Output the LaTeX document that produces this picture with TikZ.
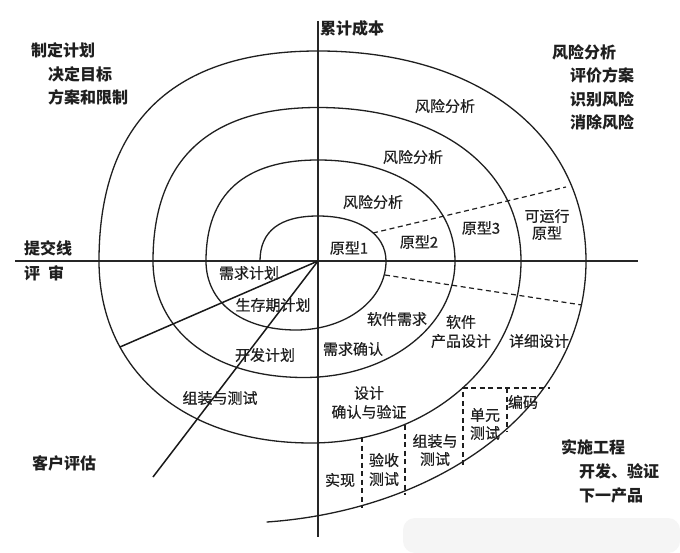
\documentclass[tikz,border=0pt]{standalone}
\usepackage{fontspec}
\newfontfamily\cjk{Noto Sans CJK SC}
\newfontfamily\cjkm{Noto Sans CJK SC}[FakeBold=0.5]
\begin{document}
\begin{tikzpicture}[x=1pt,y=-1pt,
  spiral/.style={line width=1.3pt, draw=black!88},
  axisline/.style={line width=1.8pt, draw=black!85},
  radial/.style={line width=1.5pt, draw=black!90},
  dashline/.style={line width=1.2pt, draw=black!88, dash pattern=on 5pt off 3.5pt},
  lab/.style={font=\cjkm\fontsize{15}{18}\selectfont, inner sep=0pt, align=center, text=black!88},
  blab/.style={font=\cjk\bfseries\fontsize{16}{19}\selectfont, inner sep=0pt, anchor=west, text=black!88}
]
\fill[white] (0,0) rectangle (680,553);
\useasboundingbox (0,0) rectangle (680,553);
\fill[black!4, rounded corners=12pt] (403,518) rectangle (680,553);

% axes
\coordinate (O) at (318,261);
\coordinate (axL) at (15,261);
\coordinate (axR) at (638,261);
\coordinate (axT) at (318,21);
\coordinate (axB) at (318,537);
\draw[axisline] (axL) -- (axR);
\draw[axisline] (axT) -- (axB);

% spiral
\draw[spiral, line cap=round, line join=round]
  (260,261) .. controls (260,231.3) and (279.7,216) .. (318,216)
            .. controls (358.8,216) and (386,234) .. (386,261)
            .. controls (386,299.6) and (346.4,330) .. (296,330)
            .. controls (242,330) and (206,302.4) .. (206,261)
            .. controls (206,194.3) and (244.1,160) .. (318,160)
            .. controls (400.2,160) and (455,200.4) .. (455,261)
            .. controls (455,326.2) and (388.6,377.5) .. (304,377.5)
            .. controls (213.4,377.5) and (153,330.9) .. (153,261)
            .. controls (153,159.7) and (209.1,107.5) .. (318,107.5)
            .. controls (439.8,107.5) and (521,168.9) .. (521,261)
            .. controls (521,362.9) and (428.6,443) .. (311,443)
            .. controls (183.8,443) and (99,370.2) .. (99,261)
            .. controls (99,122.4) and (173.5,51) .. (318,51)
            .. controls (478.8,51) and (586,135) .. (586,261)
            .. controls (586,407) and (440,510) .. (267,522);

% radial lines
\coordinate (r1) at (120,347);
\coordinate (r2) at (153,477);
\draw[radial] (O) -- (r1);
\draw[radial] (O) -- (r2);

% dashed lines
\coordinate (du1) at (373,233);
\coordinate (du2) at (566,187);
\coordinate (dl1) at (385,275);
\coordinate (dl2) at (582,305);
\draw[dashline] (du1) -- (du2);
\draw[dashline] (dl1) -- (dl2);

\coordinate (b1t) at (362,437); \coordinate (b1b) at (362,508);
\coordinate (b2t) at (405,425); \coordinate (b2b) at (405,495);
\coordinate (b3t) at (463,388); \coordinate (b3b) at (463,465);
\coordinate (b4t) at (507,388); \coordinate (b4b) at (507,432);
\coordinate (b5) at (550,388);
\draw[dashline] (b1t) -- (b1b);
\draw[dashline] (b2t) -- (b2b);
\draw[dashline] (b3b) -- (b3t) -- (b5);
\draw[dashline] (b4t) -- (b4b);

% corner labels
\node[blab] (c1) at (320,28) {累计成本};
\node[blab] (c2) at (31,50) {制定计划};
\node[blab] (c3) at (48,74) {决定目标};
\node[blab] (c4) at (48,97) {方案和限制};
\node[blab] (c5) at (552,52) {风险分析};
\node[blab] (c6) at (570,75) {评价方案};
\node[blab] (c7) at (570,99) {识别风险};
\node[blab] (c8) at (570,122) {消除风险};
\node[blab] (c9) at (24,248) {提交线};
\node[blab] (c10) at (24,273) {评\hspace{0.5em}审};
\node[blab] (c11) at (32,463) {客户评估};
\node[blab] (c12) at (561,447) {实施工程};
\node[blab] (c13) at (579,471) {开发、验证};
\node[blab] (c14) at (579,495) {下一产品};

% inner labels
\node[lab] (l1) at (445,106) {风险分析};
\node[lab] (l2) at (413,157) {风险分析};
\node[lab] (l3) at (373,202) {风险分析};
\node[lab] (l4) at (349,248) {原型1};
\node[lab] (l5) at (419,242) {原型2};
\node[lab] (l6) at (481,228) {原型3};
\node[lab, font=\cjkm\fontsize{15}{17}\selectfont] (l7) at (547,224.5) {可运行\\原型};
\node[lab] (l8) at (249,273) {需求计划};
\node[lab] (l9) at (273,305) {生存期计划};
\node[lab] (l10) at (265,355) {开发计划};
\node[lab] (l11) at (220,398) {组装与测试};
\node[lab] (l12) at (397,319) {软件需求};
\node[lab] (l13) at (353,349) {需求确认};
\node[lab, font=\cjkm\fontsize{15}{19}\selectfont] (l14) at (461,331.5) {软件\\产品设计};
\node[lab] (l15) at (539,341) {详细设计};
\node[lab, font=\cjkm\fontsize{15}{19}\selectfont] (l16) at (369,402.5) {设计\\确认与验证};
\node[lab] (l17) at (485,424) {单元\\测试};
\node[lab] (l18) at (523,402) {编码};
\node[lab] (l19) at (435,450) {组装与\\测试};
\node[lab, font=\cjkm\fontsize{15}{19}\selectfont] (l20) at (384,469.5) {验收\\测试};
\node[lab] (l21) at (340,480) {实现};
\end{tikzpicture}
\end{document}
